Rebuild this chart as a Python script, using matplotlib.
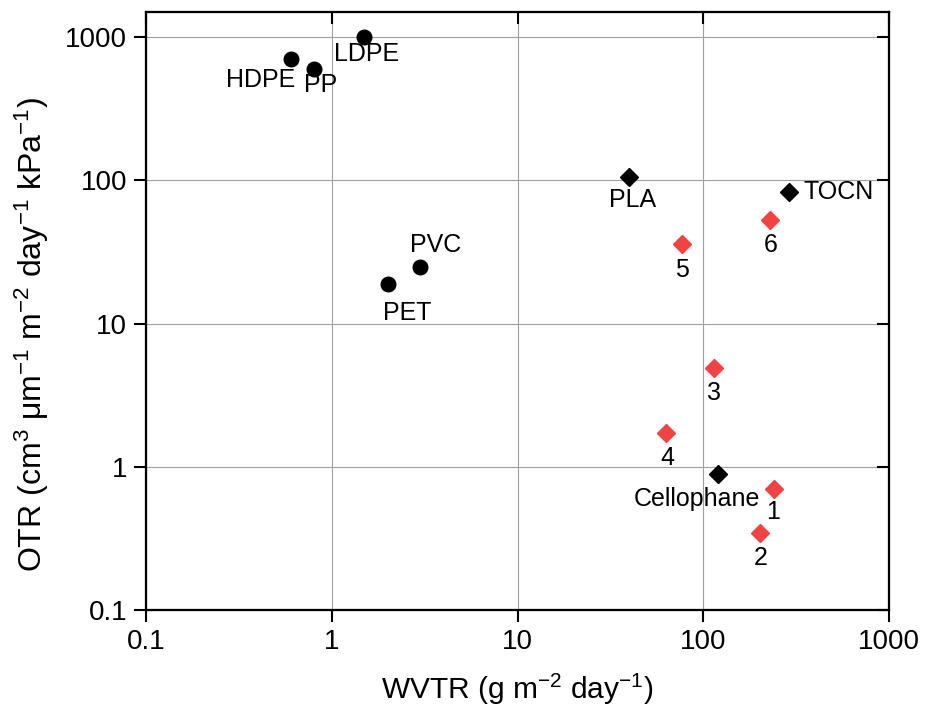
import numpy as np
import matplotlib
matplotlib.use("Agg")
import matplotlib.pyplot as plt

# petroleum-based polymers (circles)
poly_names = ["HDPE", "PP", "LDPE", "PET", "PVC"]
poly_wvtr = [0.6, 0.8, 1.5, 2.0, 3.0]
poly_otr = [700, 600, 1000, 19, 25]

# bio-based references (black diamonds)
bio_names = ["PLA", "TOCN", "Cellophane"]
bio_wvtr = [40, 290, 120]
bio_otr = [105, 83, 0.89]

# samples 1-6 (red diamonds)
sample_names = ["1", "2", "3", "4", "5", "6"]
sample_wvtr = [240, 202, 114, 63, 77, 229]
sample_otr = [0.70, 0.344, 4.9, 1.72, 36, 53]

x_ticks = [0.1, 1, 10, 100, 1000]
y_ticks = [0.1, 1, 10, 100, 1000]
tick_labels = ["0.1", "1", "10", "100", "1000"]

# label placement (pixels from marker): dx, dy, ha
offsets = {
    "HDPE": (5, -21, "right"), "PP": (7, -16, "center"), "LDPE": (2, -17, "center"),
    "PET": (20, -29, "center"), "PVC": (15, 22, "center"),
    "PLA": (3, -23, "center"), "TOCN": (14, 0, "left"), "Cellophane": (-21, -25, "center"),
    "1": (-1, -23, "center"), "2": (1, -25, "center"), "3": (0, -25, "center"),
    "4": (1, -25, "center"), "5": (0, -26, "center"), "6": (1, -25, "center"),
}

plt.rcParams["font.family"] = ["Liberation Sans", "DejaVu Sans"]
plt.rcParams["mathtext.fontset"] = "custom"
plt.rcParams["mathtext.rm"] = "Liberation Sans"
plt.rcParams["mathtext.it"] = "Liberation Sans:italic"
plt.rcParams["mathtext.default"] = "regular"

fs_tick = 20
fs_lab = 18
fs_xaxis = 21.5
fs_yaxis = 23

fig = plt.figure(figsize=(9.29, 7.17), dpi=100)
ax = fig.add_axes([146 / 929, 1 - 610 / 717, 743 / 929, 598 / 717])
ax.set_xscale("log")
ax.set_yscale("log")
ax.set_xlim(0.1, 1000)
ax.set_ylim(0.1, 1500)

ax.grid(True, which="major", color="#a0a0a0", linewidth=0.8)
ax.set_axisbelow(True)

red = "#f04343"
ax.plot(poly_wvtr, poly_otr, "o", color="black", ms=10.5, ls="none", zorder=3)
ax.plot(bio_wvtr, bio_otr, "D", color="black", ms=9, ls="none", zorder=3)
ax.plot(sample_wvtr, sample_otr, "D", color=red, ms=9, ls="none", zorder=3)

for names, xs, ys in [(poly_names, poly_wvtr, poly_otr),
                      (bio_names, bio_wvtr, bio_otr),
                      (sample_names, sample_wvtr, sample_otr)]:
    for n, x, y in zip(names, xs, ys):
        dx, dy, ha = offsets[n]
        ax.annotate(n, (x, y), xytext=(dx, dy), textcoords="offset pixels",
                    ha=ha, va="center", fontsize=fs_lab)

ax.set_xticks(x_ticks)
ax.set_xticklabels(tick_labels)
ax.set_yticks(y_ticks)
ax.set_yticklabels(tick_labels)
ax.minorticks_off()
ax.tick_params(axis="both", which="major", direction="out", length=8.5, width=1.5,
               labelsize=fs_tick, pad=5, top=False, right=False)

# inward ticks on top and right
axt = ax.twiny()
axt.set_xscale("log")
axt.set_xlim(ax.get_xlim())
axt.set_xticks(x_ticks)
axt.tick_params(axis="x", direction="in", length=8.5, width=1.5, labeltop=False)
axt.minorticks_off()
axr = ax.twinx()
axr.set_yscale("log")
axr.set_ylim(ax.get_ylim())
axr.set_yticks(y_ticks)
axr.tick_params(axis="y", direction="in", length=8.5, width=1.5, labelright=False)
axr.minorticks_off()

for a in (ax, axt, axr):
    for s in a.spines.values():
        s.set_linewidth(1.5)

ax.set_xlabel("WVTR (g m$^{-2}$ day$^{-1}$)", fontsize=fs_xaxis, labelpad=12)
ax.set_ylabel("OTR (cm$^{3}$ μm$^{-1}$ m$^{-2}$ day$^{-1}$ kPa$^{-1}$)", fontsize=fs_yaxis)
ax.yaxis.set_label_coords(-0.128, 0.46)

fig.savefig("out.png", dpi=100, facecolor="white")
